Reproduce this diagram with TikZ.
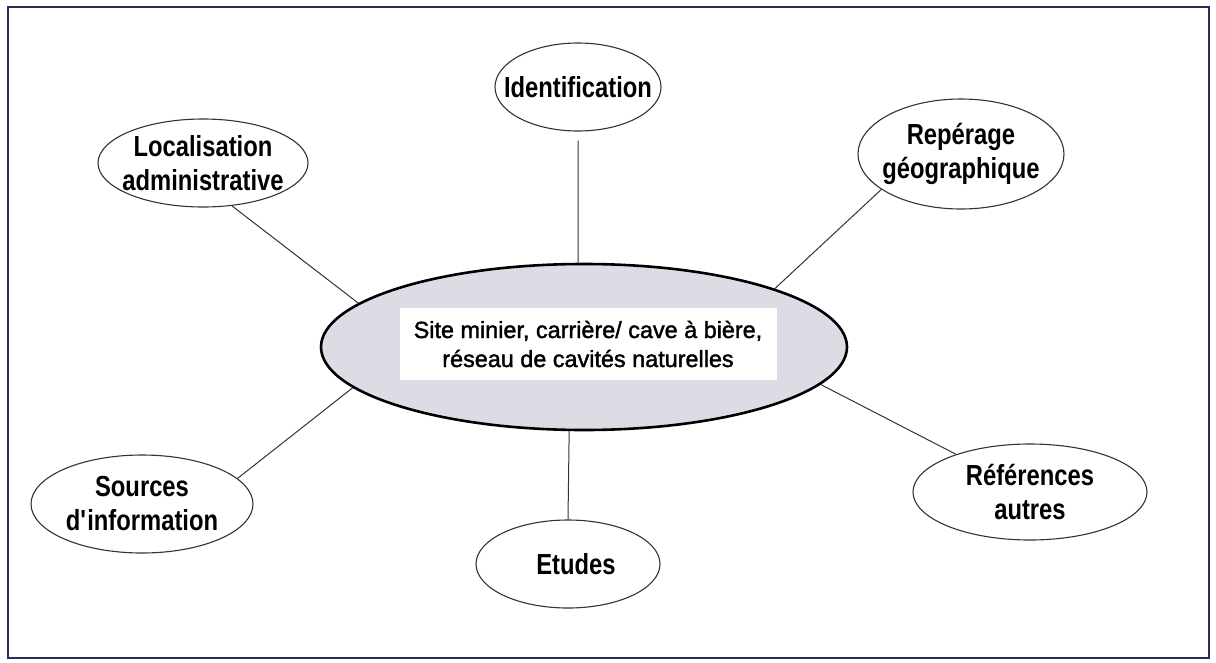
\documentclass[tikz,border=0pt]{standalone}
\usepackage{fontspec}
\setmainfont{Liberation Sans}
\newfontfamily\narrowbold{Liberation Sans Bold}[FakeStretch=0.82]
\newfontfamily\heavytext{Liberation Sans}[FakeBold=1.6]
\usepackage{xcolor}
\usepackage{tikz}
\usetikzlibrary{shapes.geometric}
\definecolor{framenavy}{RGB}{44,44,86}
\definecolor{dotgray}{RGB}{220,220,228}
\tikzstyle{frame} = [draw=framenavy, line width=1.8pt]
\tikzstyle{centre} = [ellipse, minimum width=526pt, minimum height=166pt, inner sep=0pt, draw=black, line width=2.6pt, fill=dotgray]
\tikzstyle{whitebox} = [rectangle, minimum width=377pt, minimum height=72pt, inner sep=0pt, fill=white, align=center, font=\heavytext\fontsize{23.4}{29}\selectfont]
\tikzstyle{topic} = [ellipse, inner sep=0pt, draw=black!80, line width=1.1pt, fill=white]
\tikzstyle{topictext} = [align=center, inner sep=0pt, font=\narrowbold\fontsize{29}{34}\selectfont]
\tikzstyle{link} = [draw=black!80, line width=1pt]

\begin{document}
\begin{tikzpicture}[x=1pt, y=-1pt]

\useasboundingbox (0,0) rectangle (1216,662);
\draw [frame] (8,7) rectangle (1209,658);

\node (site) [centre] at (584,347) {};
\node (sitetext) [whitebox] at (588,344) {Site minier, carrière/ cave à bière,\\réseau de cavités naturelles};

\node (loc) [topic, minimum width=210pt, minimum height=88pt, label={[topictext]center:{Localisation\\administrative}}] at (203,163) {};
\node (ident) [topic, minimum width=166pt, minimum height=88pt, label={[topictext]center:{Identification}}] at (578,87) {};
\node (rep) [topic, minimum width=206pt, minimum height=110pt, label={[topictext]center:{Repérage\\géographique}}] at (961,154) {};
\node (ref) [topic, minimum width=234pt, minimum height=96pt, label={[topictext]center:{Références\\autres}}] at (1030,492) {};
\node (etu) [topic, minimum width=184pt, minimum height=88pt, label={[topictext, xshift=8pt]center:{Etudes}}] at (568,564) {};
\node (src) [topic, minimum width=222pt, minimum height=98pt, label={[topictext]center:{Sources\\d\textquotesingle information}}] at (142,504) {};

\draw [link] (loc.-56) -- (site.169);
\draw [link, shorten <=9pt] (ident.south) -- (site.94);
\draw [link] (rep.-156) -- (site.17);
\draw [link] (ref.153) -- (site.-9.5);
\draw [link] (etu.north) -- (site.260);
\draw [link] (src.15) -- (site.190);

\end{tikzpicture}
\end{document}
